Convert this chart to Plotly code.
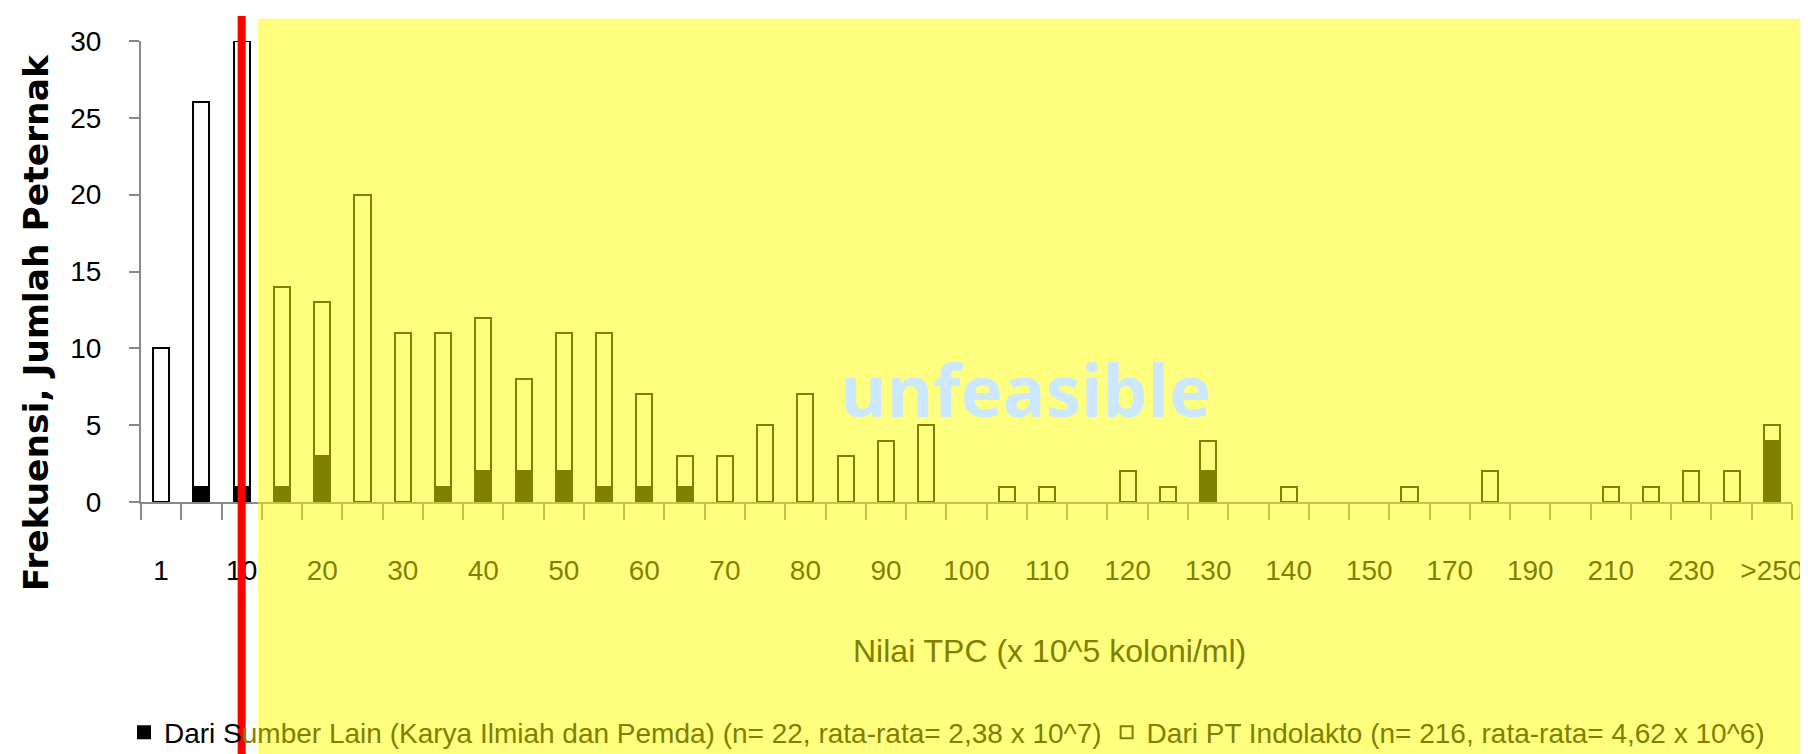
import plotly.graph_objects as go

categories = ["1", "5", "10", "15", "20", "25", "30", "35", "40", "45", "50", "55", "60", "65",
              "70", "75", "80", "85", "90", "95", "100", "105", "110", "115", "120", "125", "130",
              "135", "140", "145", "150", "160", "170", "180", "190", "200", "210", "220", "230",
              "240", ">250"]
sumber_lain = [0, 1, 1, 1, 3, 0, 0, 1, 2, 2, 2, 1, 1, 1, 0, 0, 0, 0, 0, 0, 0, 0, 0, 0, 0, 0, 2,
               0, 0, 0, 0, 0, 0, 0, 0, 0, 0, 0, 0, 0, 4]
indolakto = [10, 25, 29, 13, 10, 20, 11, 10, 10, 6, 9, 10, 6, 2, 3, 5, 7, 3, 4, 5, 0, 1, 1, 0, 2, 1, 2,
             0, 1, 0, 0, 1, 0, 2, 0, 0, 1, 1, 2, 2, 1]
tick_labels = [c if i % 2 == 0 else "" for i, c in enumerate(categories)]

FONT = "Liberation Sans, Arial, sans-serif"
OLIVE = "#808000"

name1 = ("Dari S<span style='color:%s'>umber Lain (Karya Ilmiah dan Pemda) "
         "(n= 22, rata-rata= 2,38 x 10^7)</span>" % OLIVE)
name2 = "<span style='color:%s'>Dari PT Indolakto (n= 216, rata-rata= 4,62 x 10^6)</span>" % OLIVE


def blank_zero(vals):
    return [v if v else None for v in vals]


fig = go.Figure()
fig.add_trace(go.Bar(x=categories, y=blank_zero(sumber_lain), name=name1,
                     marker=dict(color="black", line=dict(color="black", width=2)),
                     showlegend=True))
fig.add_trace(go.Bar(x=categories, y=blank_zero(indolakto), name=name2,
                     marker=dict(color="white", line=dict(color="black", width=2)),
                     showlegend=False))
# legend proxy for the entry that sits under the yellow overlay
fig.add_trace(go.Bar(x=[None], y=[None], name=name2,
                     marker=dict(color="rgb(255,255,128)", line=dict(color=OLIVE, width=2)),
                     showlegend=True))

red_idx = categories.index("10")

fig.update_layout(
    width=1808, height=754,
    margin=dict(l=133, r=24, t=33, b=260, autoexpand=False),
    barmode="stack", bargap=0.6,
    paper_bgcolor="white", plot_bgcolor="white",
    font=dict(family=FONT, size=28, color="black"),
    legend=dict(orientation="h", x=-0.0103, xanchor="left", y=-0.50, yanchor="middle",
                traceorder="normal",
                font=dict(family=FONT, size=28, color="black"),
                bgcolor="rgba(0,0,0,0)", itemclick=False),
    xaxis=dict(type="category", tickmode="array", tickvals=categories, ticktext=tick_labels,
               tickson="boundaries", ticks="outside", ticklen=16, tickwidth=2, tickcolor="#898989",
               showline=True, linecolor="#898989", linewidth=2, showgrid=False, tickangle=0,
               automargin=False,
               tickfont=dict(family=FONT, size=28, color="black"), ticklabelstandoff=42,
               range=[-0.5, len(categories) - 0.5]),
    yaxis=dict(range=[0, 30], dtick=5, ticks="outside", ticklen=10, tickwidth=2, tickcolor="#898989",
               showline=True, linecolor="#898989", linewidth=2, showgrid=False, zeroline=False,
               automargin=False,
               tickfont=dict(family=FONT, size=28, color="black"), ticklabelstandoff=22),
    shapes=[
        dict(type="rect", xref="paper", yref="paper", x0=0.0709, x1=1.011, y0=-0.6, y1=1.048,
             fillcolor="rgba(255,255,0,0.5)", line=dict(width=0), layer="above"),
        dict(type="line", xref="x", yref="paper", x0=red_idx, x1=red_idx, y0=-0.6, y1=1.054,
             line=dict(color="red", width=8), layer="above"),
    ],
    annotations=[
        dict(text="<b>Frekuensi, Jumlah Peternak</b>", xref="paper", yref="paper",
             x=-0.0636, y=0.39, xanchor="center", yanchor="middle", textangle=-90,
             showarrow=False, font=dict(family="DejaVu Sans", size=34.5, color="black")),
        dict(text="Nilai TPC (x 10^5 koloni/ml)", xref="paper", yref="paper",
             x=0.550, y=-0.323, xanchor="center", yanchor="middle", showarrow=False,
             font=dict(family=FONT, size=32, color=OLIVE)),
        dict(text="<b>unfeasible</b>", xref="paper", yref="paper",
             x=0.536, y=0.243, xanchor="center", yanchor="middle", showarrow=False,
             font=dict(family="Open Sans", size=71, color="rgb(204,232,255)")),
    ],
)

fig.write_html("out.html")
